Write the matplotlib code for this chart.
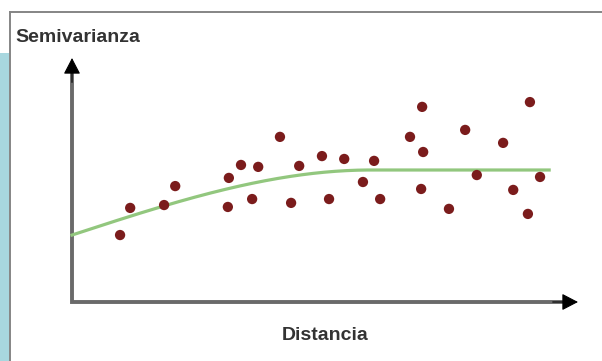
import numpy as np
import matplotlib
matplotlib.use("Agg")
import matplotlib.pyplot as plt
from matplotlib.patches import Rectangle
from matplotlib.lines import Line2D

# Empirical semivariogram: lag distance vs. semivariance
distancia = [9.5, 11.5, 18.2, 20.4, 30.8, 31.0, 33.4, 35.6, 36.8, 41.1,
             43.3, 44.9, 49.4, 50.8, 53.8, 57.5, 59.7, 60.9, 66.8, 69.0,
             69.2, 69.4, 74.5, 77.7, 80.0, 85.2, 87.2, 90.1, 90.5, 92.5]
semivarianza = [27.9, 39.2, 40.4, 48.3, 39.6, 51.7, 57.1, 42.9, 56.3, 68.8,
                41.3, 56.7, 60.8, 42.9, 59.6, 50.0, 58.8, 42.9, 68.8, 47.1,
                81.3, 62.5, 38.8, 71.7, 52.9, 66.3, 46.7, 36.7, 83.3, 52.1]

# Fitted spherical model
pepita = 27.9      # nugget
meseta = 55.0      # sill
rango = 59.0       # range
dist_max = 94.3


def esferico(h):
    h = np.asarray(h, dtype=float)
    r = np.clip(h / rango, 0, 1)
    return pepita + (meseta - pepita) * (1.5 * r - 0.5 * r ** 3)


W, H = 602, 361
fig = plt.figure(figsize=(W / 100, H / 100), dpi=100)
fig.patch.set_facecolor("white")

# Side band and frame
fig.add_artist(Rectangle((0, 0), 8.5 / W, (H - 53) / H, transform=fig.transFigure,
                         facecolor="#a8d7df", edgecolor="none"))
fig.add_artist(Line2D([9.5 / W, 1.0], [1 - 12 / H, 1 - 12 / H], transform=fig.transFigure,
                      color="#858585", lw=1.4))
fig.add_artist(Line2D([9.5 / W, 9.5 / W], [0, 1 - 12 / H], transform=fig.transFigure,
                      color="#858585", lw=1.4))

# Plot area: origin at (72, 302) px, y-arrow tip at 58 px, x-arrow tip at 578 px
x0, y0, x1, y1 = 72, 302, 578, 58
ax = fig.add_axes([x0 / W, 1 - y0 / H, (x1 - x0) / W, (y0 - y1) / H])
ax.set_xlim(0, (x1 - x0) / 5.06)
ax.set_ylim(0, (y0 - y1) / 2.4)
ax.axis("off")
ax.patch.set_alpha(0)

# Axes with arrow heads
axis_col = "#6a6a6a"
ax.plot([0, 0, 0.972], [0.943, 0, 0], transform=ax.transAxes, color=axis_col,
        lw=2.8, solid_joinstyle="miter", solid_capstyle="butt", clip_on=False, zorder=2)
head = dict(arrowstyle="-|>,head_length=1.0,head_width=0.52", color="black",
            lw=0.8, shrinkA=0, shrinkB=0)
ax.annotate("", xy=(0, 1), xycoords="axes fraction", xytext=(0, 0.9),
            textcoords="axes fraction", arrowprops=head, zorder=3)
ax.annotate("", xy=(1, 0), xycoords="axes fraction", xytext=(0.95, 0),
            textcoords="axes fraction", arrowprops=head, zorder=3)

# Model curve
hs = np.linspace(0, dist_max, 300)
ax.plot(hs, esferico(hs), color="#92c77e", lw=2.3, zorder=4, clip_on=False)

# Empirical points
ax.scatter(distancia, semivarianza, s=55, color="#7b1c1c", edgecolors="none",
           zorder=5, clip_on=False)

font = dict(family=["Liberation Sans", "DejaVu Sans"], weight="bold",
            size=14, color="#333333")
fig.text(15 / W, 1 - 42 / H, "Semivarianza", ha="left", va="baseline", **font)
fig.text(325 / W, 1 - 340 / H, "Distancia", ha="center", va="baseline", **font)

fig.savefig("out.png", dpi=100, facecolor="white")
